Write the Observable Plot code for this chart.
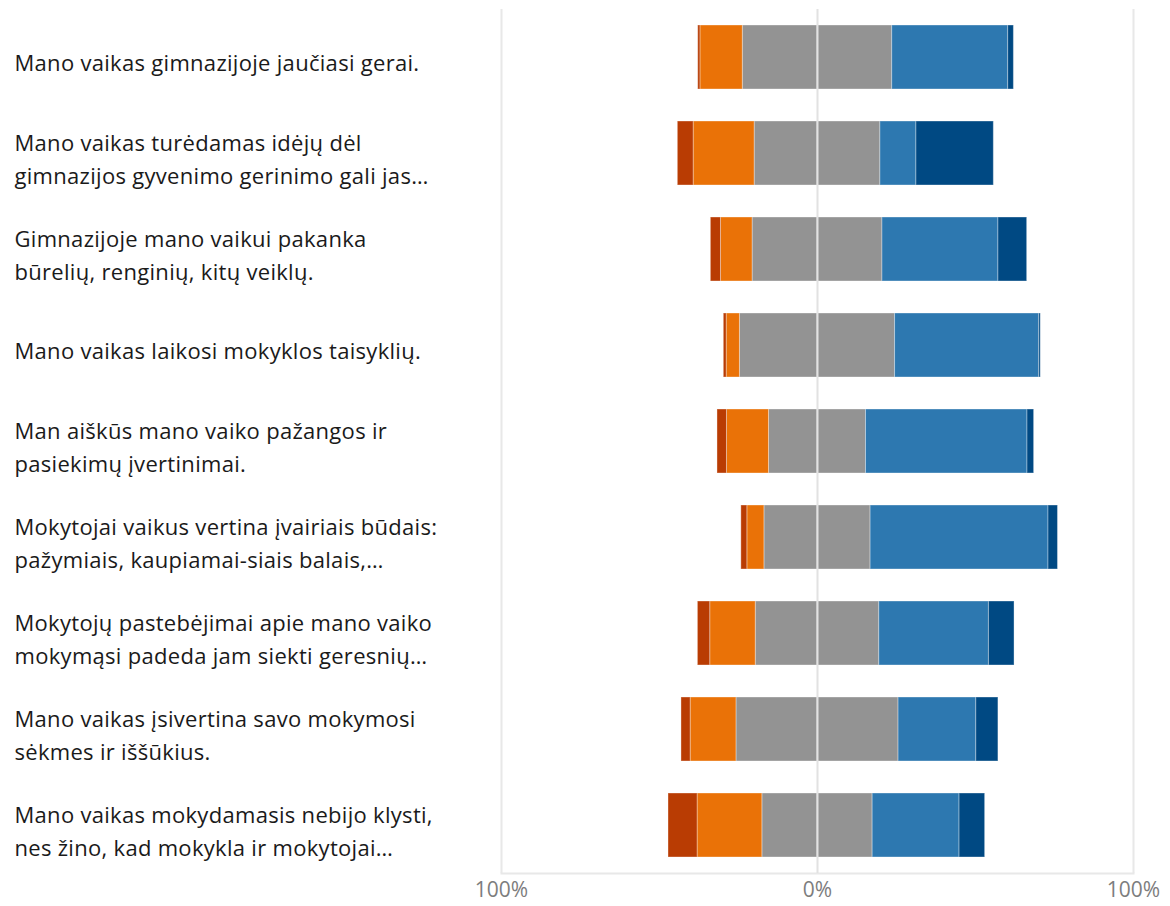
<!DOCTYPE html>
<html>
<head>
<meta charset="utf-8">
<script src="https://cdn.jsdelivr.net/npm/d3@7"></script>
<script src="https://cdn.jsdelivr.net/npm/@observablehq/plot@0.6"></script>
<style>
  html, body { margin: 0; padding: 0; background: #fff; }
  #chart { width: 1170px; height: 906px; }
  .ylab text { letter-spacing: 0.3px; }
</style>
</head>
<body>
<div id="chart"></div>
<script>
const questions = [
  "Mano vaikas gimnazijoje jaučiasi gerai.",
  "Mano vaikas turėdamas idėjų dėl\ngimnazijos gyvenimo gerinimo gali jas…",
  "Gimnazijoje mano vaikui pakanka\nbūrelių, renginių, kitų veiklų.",
  "Mano vaikas laikosi mokyklos taisyklių.",
  "Man aiškūs mano vaiko pažangos ir\npasiekimų įvertinimai.",
  "Mokytojai vaikus vertina įvairiais būdais:\npažymiais, kaupiamai-siais balais,…",
  "Mokytojų pastebėjimai apie mano vaiko\nmokymąsi padeda jam siekti geresnių…",
  "Mano vaikas įsivertina savo mokymosi\nsėkmes ir iššūkius.",
  "Mano vaikas mokydamasis nebijo klysti,\nnes žino, kad mokykla ir mokytojai…"
];
const stronglyDisagree = [0.7, 5.0, 3.2, 0.9, 3.0, 1.9, 3.9, 2.9, 9.2];
const disagree         = [13.4, 19.3, 10.0, 4.2, 13.3, 5.4, 14.4, 14.5, 20.5];
const neutral          = [47.3, 39.8, 41.1, 49.1, 30.7, 33.6, 39.1, 51.3, 34.9];
const agree            = [36.7, 11.4, 36.7, 45.6, 51.1, 56.3, 34.7, 24.6, 27.5];
const stronglyAgree    = [1.8, 24.5, 9.1, 0.5, 2.1, 3.0, 8.1, 7.0, 8.1];
const categories = ["Visiškai nesutinku", "Nesutinku", "Nei sutinku, nei nesutinku", "Sutinku", "Visiškai sutinku"];
const colors = ["#b93c03", "#ea7207", "#939393", "#2d78b0", "#004983"];
const xTicks = [-100, 0, 100];

// Build diverging segments
const segments = [];
questions.forEach((q, i) => {
  const half = neutral[i] / 2;
  segments.push({q, cat: categories[2], x1: -half, x2: 0});
  segments.push({q, cat: categories[1], x1: -half - disagree[i], x2: -half});
  segments.push({q, cat: categories[0], x1: -half - disagree[i] - stronglyDisagree[i], x2: -half - disagree[i]});
  segments.push({q, cat: categories[2], x1: 0, x2: half});
  segments.push({q, cat: categories[3], x1: half, x2: half + agree[i]});
  segments.push({q, cat: categories[4], x1: half + agree[i], x2: half + agree[i] + stronglyAgree[i]});
});

const chart = Plot.plot({
  width: 1170,
  height: 906,
  marginLeft: 501,
  marginRight: 37,
  marginTop: 9,
  marginBottom: 33,
  style: {fontFamily: "'Open Sans', sans-serif", background: "#fff"},
  x: {domain: [-100, 100]},
  y: {domain: questions, paddingInner: 1 / 3, paddingOuter: 1 / 6, round: false},
  color: {domain: categories, range: colors},
  marks: [
    Plot.ruleX([-100, 100], {stroke: "#e8e8e8", strokeWidth: 2}),
    Plot.frame({anchor: "bottom", stroke: "#e8e8e8", strokeWidth: 2}),
    Plot.barX(segments, {
      y: "q", x1: "x1", x2: "x2", fill: "cat",
      stroke: "white", strokeOpacity: 0.35, strokeWidth: 1
    }),
    Plot.ruleX([0], {stroke: "#e2e2e2", strokeWidth: 2}),
    Plot.axisY({
      tickSize: 0, tickPadding: 487, textAnchor: "start", className: "ylab",
      fontSize: 22, fill: "#1a1a1a", lineHeight: 1.5, dy: 3, label: null
    }),
    Plot.axisX({
      ticks: xTicks, tickSize: 0, tickPadding: 9,
      tickFormat: d => Math.abs(d) + "%",
      fontSize: 21, fill: "#7d7d7d", label: null
    })
  ]
});
document.getElementById("chart").appendChild(chart);
</script>
</body>
</html>
